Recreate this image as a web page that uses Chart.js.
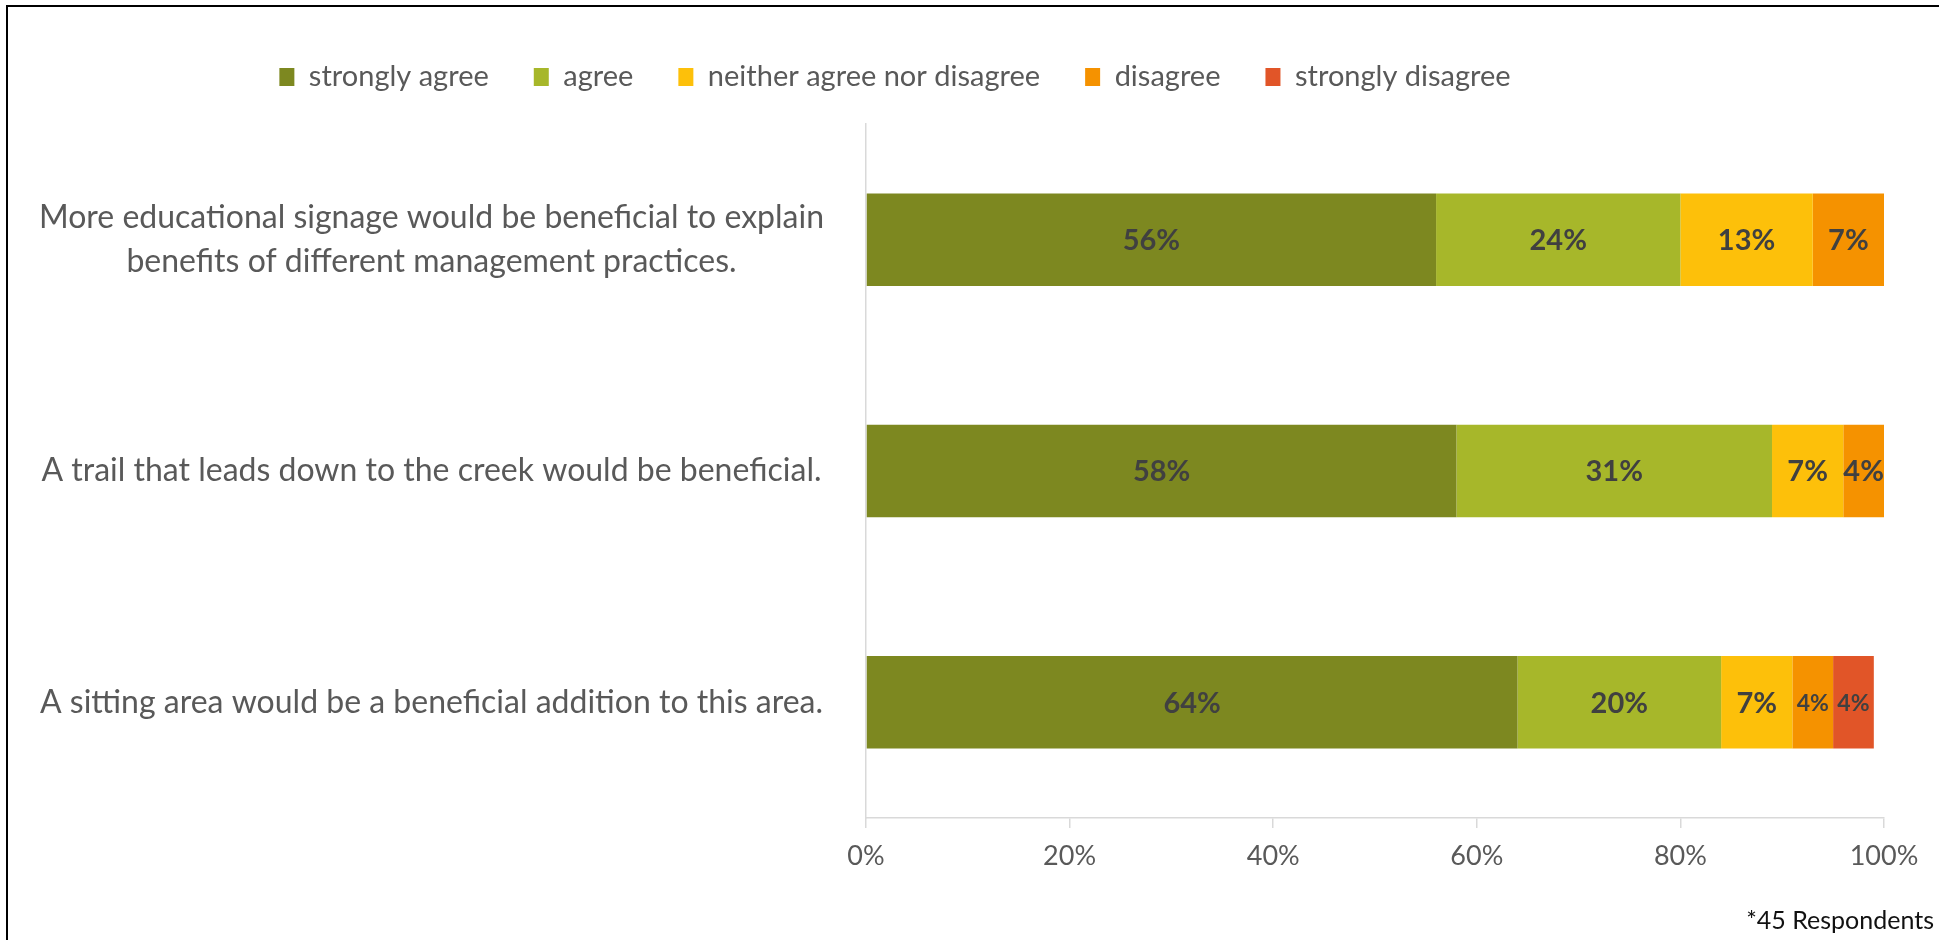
<!DOCTYPE html>
<html>
<head>
<meta charset="utf-8">
<script src="https://cdn.jsdelivr.net/npm/chart.js@4/dist/chart.umd.min.js"></script>
<style>
  html, body { margin: 0; padding: 0; background: #fff; overflow: hidden; }
  #wrap { position: absolute; left: 0; top: 0; width: 1939px; height: 940px; }
  #frame { position: absolute; left: 6px; top: 5px; width: 2000px; height: 1000px;
           border-top: 2px solid #000; border-left: 2px solid #000; pointer-events: none; }
</style>
</head>
<body>
<div id="wrap"><canvas id="surveyChart" width="1939" height="940"></canvas></div>
<div id="frame"></div>
<script>
// categories (top to bottom) and answer shares in %
const categories = [
  ['More educational signage would be beneficial to explain', 'benefits of different management practices.'],
  'A trail that leads down to the creek would be beneficial.',
  'A sitting area would be a beneficial addition to this area.'
];
const stronglyAgree    = [56, 58, 64];
const agree            = [24, 31, 20];
const neither          = [13, 7, 7];
const disagree         = [7, 4, 4];
const stronglyDisagree = [0, 0, 4];
const xTicks = [0, 20, 40, 60, 80, 100];
const footnote = '*45 Respondents';

Chart.defaults.font.family = 'Lato, "Open Sans", sans-serif';

/* ---- value labels inside the segments ---- */
const segmentLabels = {
  id: 'segmentLabels',
  afterDatasetsDraw(chart) {
    const ctx = chart.ctx;
    const sets = chart.data.datasets;
    ctx.save();
    ctx.fillStyle = '#404040';
    ctx.textAlign = 'center';
    ctx.textBaseline = 'middle';
    sets.forEach((ds, d) => {
      const meta = chart.getDatasetMeta(d);
      meta.data.forEach((bar, i) => {
        const v = ds.data[i];
        if (!v) return;
        // crowded: this and a neighbouring segment both tiny
        const prev = d > 0 ? sets[d - 1].data[i] : 0;
        const next = d < sets.length - 1 ? sets[d + 1].data[i] : 0;
        const small = v < 5 && ((prev && prev < 5) || (next && next < 5));
        ctx.font = 'bold ' + (small ? 23 : 29) + 'px Lato, sans-serif';
        const p = bar.getProps(['x', 'y', 'base'], true);
        ctx.fillText(v + '%', (p.x + p.base) / 2, p.y + 1);
      });
    });
    ctx.restore();
  }
};

/* ---- move legend / footnote boxes where the original has them ---- */
const boxShift = {
  id: 'boxShift',
  afterLayout(chart) {
    const lg = chart.legend;
    const h = lg.bottom - lg.top;
    lg.left = 0;
    lg.right = 1790;
    lg.top = 17.5;
    lg.bottom = 17.5 + h;
    if (chart.titleBlock) chart.titleBlock.right = 1934;
  }
};

const ctx = document.getElementById('surveyChart').getContext('2d');

new Chart(ctx, {
  type: 'bar',
  data: {
    labels: categories,
    datasets: [
      { label: 'strongly agree', data: stronglyAgree, backgroundColor: '#7D8820' },
      { label: 'agree', data: agree, backgroundColor: '#A7B72A' },
      { label: 'neither agree nor disagree', data: neither, backgroundColor: '#FDC00A' },
      { label: 'disagree', data: disagree, backgroundColor: '#F59200' },
      { label: 'strongly disagree', data: stronglyDisagree, backgroundColor: '#E15528' }
    ]
  },
  options: {
    indexAxis: 'y',
    responsive: false,
    animation: false,
    datasets: {
      bar: { barPercentage: 0.4, categoryPercentage: 1, borderWidth: 0 }
    },
    layout: { padding: { top: 40, right: 55, left: 0, bottom: 0 } },
    plugins: {
      tooltip: { enabled: false },
      legend: {
        position: 'top',
        align: 'center',
        labels: {
          color: '#595959',
          font: { size: 29 },
          boxWidth: 15,
          boxHeight: 18,
          padding: 45
        }
      },
      title: {
        display: true,
        text: footnote,
        position: 'bottom',
        align: 'end',
        color: '#111',
        font: { size: 25, weight: 'normal', lineHeight: 1.2 },
        padding: { top: 0, bottom: 4 }
      }
    },
    scales: {
      x: {
        stacked: true,
        min: 0,
        max: 100,
        afterBuildTicks: axis => { axis.ticks = xTicks.map(v => ({ value: v })); },
        afterFit: axis => { axis.height = 88; },
        grid: { drawOnChartArea: false, drawTicks: true, tickLength: 10, color: '#d9d9d9', lineWidth: 1.5 },
        border: { display: true, color: '#d9d9d9', width: 1.5 },
        ticks: {
          color: '#595959',
          font: { size: 27 },
          padding: 12,
          maxRotation: 0,
          callback: v => v + '%'
        }
      },
      y: {
        stacked: true,
        afterFit: axis => { axis.width = 866; },
        grid: { drawOnChartArea: false, drawTicks: false },
        border: { display: true, color: '#d9d9d9', width: 1.5 },
        ticks: {
          color: '#595959',
          font: { size: 32, lineHeight: 1.38 },
          crossAlign: 'center',
          padding: 42
        }
      }
    }
  },
  plugins: [segmentLabels, boxShift]
});
</script>
</body>
</html>
